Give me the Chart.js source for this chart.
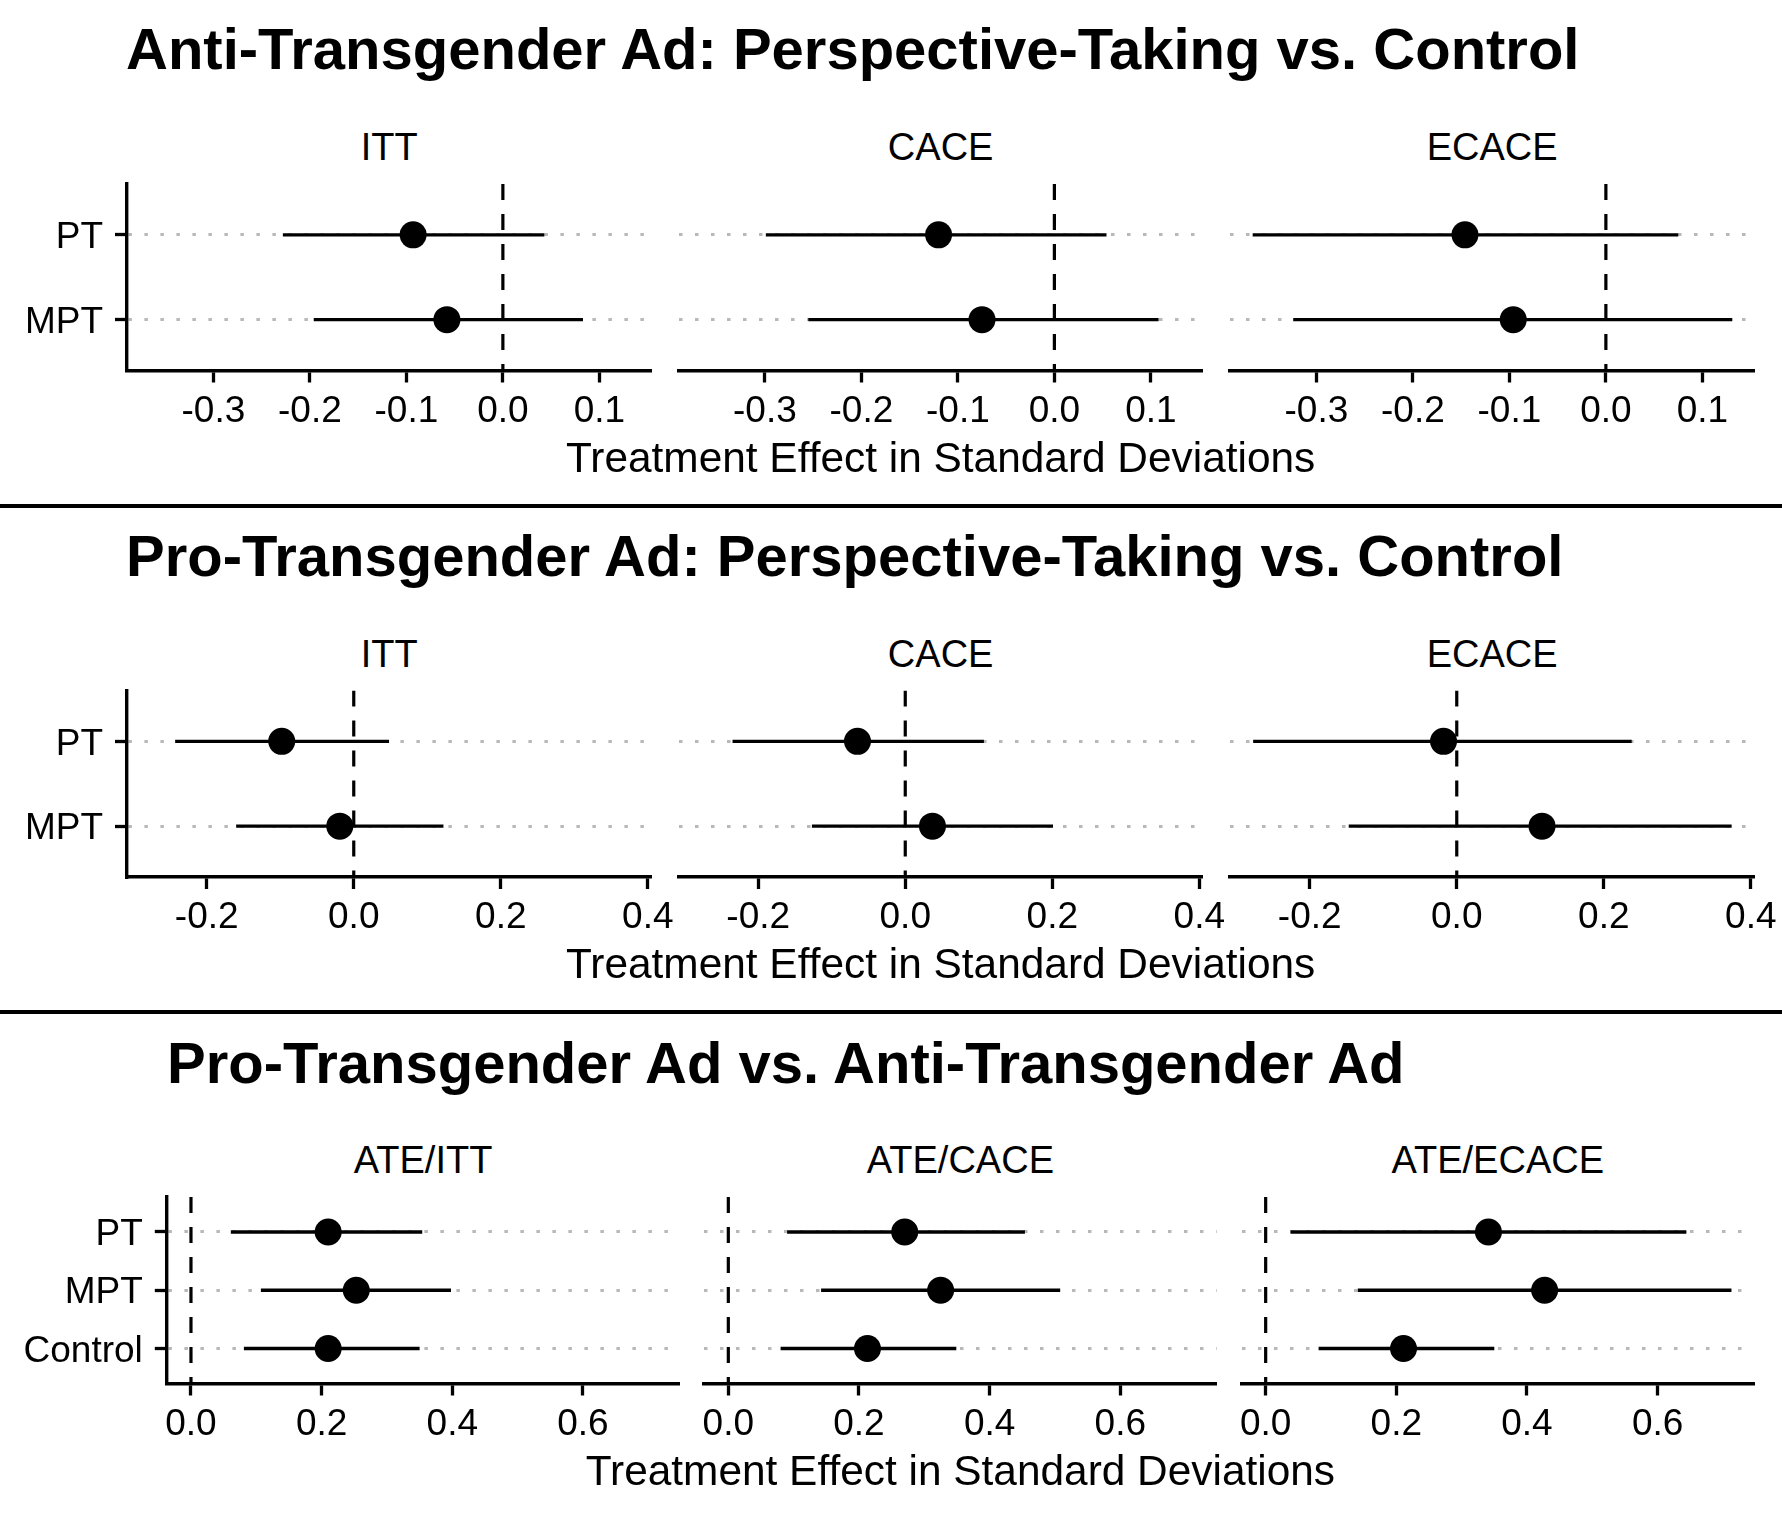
<!DOCTYPE html>
<html>
<head>
<meta charset="utf-8">
<script src="https://cdn.jsdelivr.net/npm/chart.js@4.4.1/dist/chart.umd.min.js"></script>
<style>
    html, body { margin: 0; padding: 0; background: #fff; }
    body { width: 1782px; height: 1521px; position: relative; overflow: hidden;
           font-family: "Liberation Sans", Arial, sans-serif; color: #000; }
    .txt { position: absolute; line-height: 1; white-space: nowrap; }
    .title { font-weight: bold; font-size: 58px; }
    .strip { font-size: 38px; text-align: center; width: 600px; }
    .xtitle { font-size: 42.4px; text-align: center; width: 1400px; }
    .rule { position: absolute; left: 0; width: 1782px; height: 3.5px; background: #000; }
    canvas { position: absolute; }
</style>
</head>
<body>
<script>
const FONT = '"Liberation Sans", Arial, sans-serif';

// TEXT
const rowTitles = [
    "Anti-Transgender Ad: Perspective-Taking vs. Control",
    "Pro-Transgender Ad: Perspective-Taking vs. Control",
    "Pro-Transgender Ad vs. Anti-Transgender Ad"
];
const xTitle = "Treatment Effect in Standard Deviations";

// CATEGORIES
const ptFacets = ["ITT", "CACE", "ECACE"];
const ptGroups = ["PT", "MPT"];
const ateFacets = ["ATE/ITT", "ATE/CACE", "ATE/ECACE"];
const ateGroups = ["PT", "MPT", "Control"];

// ANTI-TRANSGENDER AD (one inner array per facet, groups in order)
const antiEst  = [[-0.093, -0.058], [-0.120, -0.075], [-0.146, -0.096]];
const antiLow  = [[-0.228, -0.196], [-0.299, -0.255], [-0.366, -0.324]];
const antiHigh = [[0.043, 0.083], [0.054, 0.108], [0.075, 0.131]];

// PRO-TRANSGENDER AD
const proEst  = [[-0.098, -0.019], [-0.065, 0.037], [-0.018, 0.116]];
const proLow  = [[-0.243, -0.160], [-0.235, -0.127], [-0.277, -0.147]];
const proHigh = [[0.048, 0.122], [0.107, 0.201], [0.238, 0.374]];

// PRO VS ANTI
const ateEst  = [[0.210, 0.253, 0.210], [0.270, 0.325, 0.213], [0.341, 0.427, 0.211]];
const ateLow  = [[0.061, 0.107, 0.081], [0.090, 0.142, 0.080], [0.038, 0.141, 0.081]];
const ateHigh = [[0.354, 0.398, 0.350], [0.454, 0.508, 0.349], [0.644, 0.713, 0.350]];

// TICKS AND AXIS LIMITS
const antiTicks = [-0.3, -0.2, -0.1, 0.0, 0.1];
const proTicks = [-0.2, 0.0, 0.2, 0.4];
const ateTicks = [0.0, 0.2, 0.4, 0.6];
const antiRange = [-0.3895, 0.1538];
const proRange = [-0.3085, 0.4048];
const ateRange = [-0.037, 0.7475];

const PANEL_H = 186.5;
const AXIS_H = 72;

const rows = [
    { title: rowTitles[0], titleX: 126, titleY: 69, top: 184, lefts: [127, 678.5, 1230], width: 524.3,
      stripY: 160, axisY: 473, facets: ptFacets, groups: ptGroups,
      est: antiEst, low: antiLow, high: antiHigh, ticks: antiTicks, range: antiRange },
    { title: rowTitles[1], titleX: 126, titleY: 576, top: 690.5, lefts: [127, 678.5, 1230], width: 524.3,
      stripY: 667, axisY: 979, facets: ptFacets, groups: ptGroups,
      est: proEst, low: proLow, high: proHigh, ticks: proTicks, range: proRange },
    { title: rowTitles[2], titleX: 167, titleY: 1083, top: 1197, lefts: [166.8, 704.15, 1241.5], width: 512.5,
      stripY: 1173, axisY: 1486, facets: ateFacets, groups: ateGroups,
      est: ateEst, low: ateLow, high: ateHigh, ticks: ateTicks, range: ateRange }
];

function addText(text, cls, left, baseline, size) {
    const d = document.createElement("div");
    d.className = "txt " + cls;
    d.textContent = text;
    d.style.left = left + "px";
    d.style.top = (baseline - 0.8465 * size) + "px";
    document.body.appendChild(d);
}

function renderPanel(left, top, width, showY, groups, est, low, high, ticks, range) {
    const padSide = 32, padTop = 14;
    const canvasLeft = showY ? 0 : Math.floor(left) - padSide;
    const canvasTop = Math.floor(top) - padTop;
    const cw = Math.ceil(left - canvasLeft + width + padSide);
    const ch = Math.ceil(top - canvasTop + PANEL_H + AXIS_H);

    const canvas = document.createElement("canvas");
    canvas.width = cw;
    canvas.height = ch;
    canvas.style.left = canvasLeft + "px";
    canvas.style.top = canvasTop + "px";
    canvas.style.width = cw + "px";
    canvas.style.height = ch + "px";
    document.body.appendChild(canvas);

    const yMax = groups.length + 0.6;
    const datasets = [];

    // points first so they sit on top
    datasets.push({
        data: est.map((v, i) => ({ x: v, y: i + 1 })),
        showLine: false,
        pointRadius: 13.5,
        pointBackgroundColor: "#000",
        pointBorderColor: "#000",
        pointBorderWidth: 0
    });

    // confidence intervals
    groups.forEach((g, i) => {
        datasets.push({
            data: [{ x: low[i], y: i + 1 }, { x: high[i], y: i + 1 }],
            showLine: true,
            borderColor: "#000",
            borderWidth: 3.4,
            pointRadius: 0
        });
    });

    // zero line
    datasets.push({
        data: [{ x: 0, y: 0.4 }, { x: 0, y: yMax }],
        showLine: true,
        borderColor: "#000",
        borderWidth: 3.2,
        borderDash: [16, 14],
        pointRadius: 0
    });

    new Chart(canvas, {
        type: "scatter",
        data: { datasets: datasets },
        options: {
            responsive: false,
            animation: false,
            devicePixelRatio: 1,
            events: [],
            layout: {
                padding: {
                    left: showY ? 0 : left - canvasLeft,
                    right: cw - (left - canvasLeft) - width,
                    top: top - canvasTop,
                    bottom: ch - (top - canvasTop) - PANEL_H - AXIS_H
                }
            },
            plugins: { legend: { display: false }, tooltip: { enabled: false } },
            scales: {
                x: {
                    type: "linear",
                    min: range[0],
                    max: range[1],
                    bounds: "data",
                    afterBuildTicks: s => { s.ticks = ticks.map(v => ({ value: v })); },
                    afterFit: s => { s.height = AXIS_H; s.paddingLeft = 0; s.paddingRight = 0; },
                    ticks: {
                        callback: v => Number(v).toFixed(1),
                        font: { family: FONT, size: 37 },
                        color: "#000",
                        padding: 7,
                        autoSkip: false,
                        maxRotation: 0,
                        minRotation: 0
                    },
                    grid: { drawOnChartArea: false, drawTicks: true, tickLength: 12, tickWidth: 3.3, tickColor: "#000" },
                    border: { display: true, color: "#000", width: 3.4 }
                },
                y: {
                    type: "linear",
                    min: 0.4,
                    max: yMax,
                    reverse: true,
                    bounds: "data",
                    afterBuildTicks: s => { s.ticks = groups.map((g, i) => ({ value: i + 1 })); },
                    // labels never reach the panel edges, so drop the edge padding chart.js reserves
                    afterFit: s => { s.width = showY ? left : 0; s.paddingTop = 0; s.paddingBottom = 0; },
                    ticks: {
                        display: showY,
                        callback: v => groups[Math.round(v) - 1],
                        font: { family: FONT, size: 37 },
                        color: "#000",
                        padding: 12,
                        labelOffset: 3
                    },
                    grid: {
                        color: "#b8b8b8",
                        lineWidth: 3,
                        drawTicks: showY,
                        tickLength: 12,
                        tickWidth: 3.3,
                        tickColor: "#000",
                        tickBorderDash: []
                    },
                    border: { display: showY, color: "#000", width: 3.4, dash: [3.5, 12.5] }
                }
            }
        }
    });
}

// DRAW ROWS
rows.forEach(r => {
    addText(r.title, "title", r.titleX, r.titleY, 58);
    r.lefts.forEach((left, j) => {
        addText(r.facets[j], "strip", left + r.width / 2 - 300, r.stripY, 38);
        renderPanel(left, r.top, r.width, j === 0, r.groups, r.est[j], r.low[j], r.high[j], r.ticks, r.range);
    });
    const center = (r.lefts[0] + r.lefts[2] + r.width) / 2;
    addText(xTitle, "xtitle", center - 700, r.axisY, 42.4);
});

// separators between the three figures
[506, 1012].forEach(y => {
    const d = document.createElement("div");
    d.className = "rule";
    d.style.top = (y - 1.75) + "px";
    document.body.appendChild(d);
});
</script>
</body>
</html>
